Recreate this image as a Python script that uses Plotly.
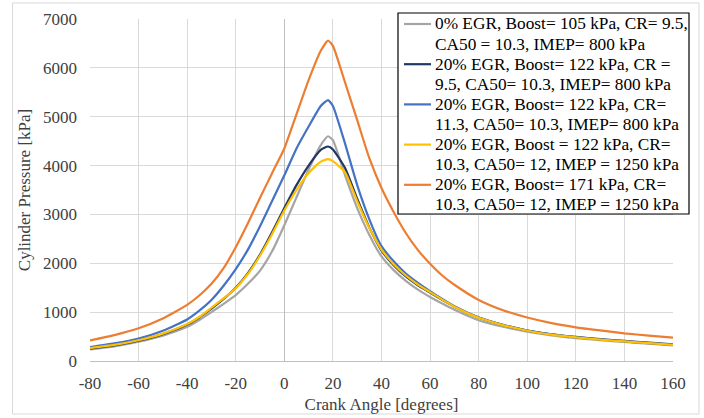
import plotly.graph_objects as go

# Crank angle samples [degrees]
crank_angle = [-80, -70, -60, -50, -40, -35, -30, -25, -20, -15, -10, -5, 0, 5, 10, 15, 18, 20, 25,
               30, 35, 40, 45, 50, 55, 60, 65, 70, 80, 90, 100, 110, 120, 130, 140, 150, 160]

# Cylinder pressure [kPa]
p_egr0_b105_cr95 = [235, 300, 395, 520, 700, 840, 1000, 1170, 1350, 1580, 1850, 2250, 2780, 3350, 3920, 4420, 4600, 4520, 3800,
                    3130, 2580, 2140, 1860, 1640, 1460, 1310, 1175, 1050, 835, 700, 600, 525, 470, 425, 390, 355, 320]
p_egr20_b122_cr95 = [255, 320, 415, 550, 745, 890, 1070, 1270, 1500, 1800, 2180, 2640, 3130, 3600, 4000, 4320, 4390, 4330, 3950,
                     3320, 2730, 2260, 1960, 1730, 1550, 1400, 1250, 1110, 890, 740, 625, 548, 492, 447, 412, 377, 342]
p_egr20_b122_cr113 = [285, 360, 460, 620, 850, 1030, 1250, 1540, 1880, 2280, 2760, 3280, 3800, 4350, 4800, 5220, 5340, 5220, 4450,
                      3600, 2900, 2350, 2040, 1790, 1600, 1430, 1270, 1120, 890, 738, 622, 545, 485, 440, 400, 365, 330]
p_egr20_b122_cr103 = [265, 330, 425, 560, 755, 900, 1090, 1280, 1490, 1780, 2160, 2600, 3080, 3500, 3850, 4080, 4130, 4090, 3860,
                      3270, 2720, 2280, 1980, 1750, 1565, 1410, 1255, 1110, 885, 735, 620, 540, 482, 437, 400, 364, 328]
p_egr20_b171_cr103 = [420, 530, 670, 870, 1150, 1340, 1580, 1900, 2330, 2820, 3340, 3850, 4350, 5050, 5750, 6350, 6560, 6450, 5700,
                      4930, 4150, 3540, 3050, 2620, 2270, 1990, 1750, 1560, 1250, 1040, 890, 775, 690, 625, 565, 520, 480]

series_names = [
    ["0% EGR, Boost= 105 kPa, CR= 9.5,", "CA50 = 10.3, IMEP= 800 kPa"],
    ["20% EGR, Boost= 122 kPa, CR =", "9.5, CA50= 10.3, IMEP= 800 kPa"],
    ["20% EGR, Boost= 122 kPa, CR=", "11.3, CA50= 10.3, IMEP= 800 kPa"],
    ["20% EGR, Boost = 122 kPa, CR=", "10.3, CA50= 12, IMEP = 1250 kPa"],
    ["20% EGR, Boost= 171 kPa, CR=", "10.3, CA50= 12, IMEP = 1250 kPa"],
]
series_values = [p_egr0_b105_cr95, p_egr20_b122_cr95, p_egr20_b122_cr113, p_egr20_b122_cr103, p_egr20_b171_cr103]
series_colors = ["#A5A5A5", "#203864", "#4472C4", "#FFC000", "#ED7D31"]

x_ticks = list(range(-80, 161, 20))
x_tick_labels = [str(v) for v in x_ticks]
y_ticks = list(range(0, 7001, 1000))

FONT = "Liberation Serif, Times New Roman, serif"
W, H = 704, 418
ML, MR, MT, MB = 90, 31, 19, 57
PW, PH = W - ML - MR, H - MT - MB


def px_x(px):
    return (px - ML) / PW


def px_y(py):
    return (H - MB - py) / PH


fig = go.Figure()
for names, vals, col in zip(series_names, series_values, series_colors):
    fig.add_trace(go.Scatter(x=crank_angle, y=vals, name=" ".join(names), mode="lines", showlegend=False,
                             line=dict(color=col, width=2.2, shape="spline", smoothing=0.5)))

# legend box (drawn as shapes + text)
shapes = [dict(type="rect", xref="paper", yref="paper",
               x0=-0.133, x1=1.0446, y0=-0.155, y1=1.0468,
               line=dict(color="#D9D9D9", width=1), layer="below"),
          dict(type="rect", xref="paper", yref="paper",
               x0=px_x(398), x1=px_x(689), y0=px_y(214), y1=px_y(13),
               line=dict(color="black", width=1.2), fillcolor="white", layer="above")]
annotations = []
line_h = 20.1
for i, (names, col) in enumerate(zip(series_names, series_colors)):
    y_first = 24 + 2 * line_h * i
    shapes.append(dict(type="line", xref="paper", yref="paper",
                       x0=px_x(404), x1=px_x(431), y0=px_y(y_first), y1=px_y(y_first),
                       line=dict(color=col, width=2.2), layer="above"))
    for k, txt in enumerate(names):
        annotations.append(dict(text=txt, xref="paper", yref="paper", x=px_x(433), y=px_y(y_first + k * line_h),
                                xanchor="left", yanchor="middle", showarrow=False,
                                font=dict(family=FONT, size=17.3, color="#000000")))

fig.update_layout(
    width=W, height=H,
    margin=dict(l=ML, r=MR, t=MT, b=MB, autoexpand=False),
    paper_bgcolor="white", plot_bgcolor="white",
    font=dict(family=FONT, size=17, color="#404040"),
    showlegend=False,
    shapes=shapes,
    annotations=annotations,
)
fig.update_xaxes(range=[-80, 160], tickvals=x_ticks, ticktext=x_tick_labels, automargin=False,
                 showgrid=True, gridcolor="#D9D9D9", gridwidth=1,
                 zeroline=True, zerolinecolor="#BFBFBF", zerolinewidth=1,
                 showline=True, linecolor="#BFBFBF", linewidth=1, ticks="", ticklabelstandoff=7,
                 title=dict(text="Crank Angle [degrees]", standoff=5, font=dict(family=FONT, size=17, color="#404040")),
                 tickfont=dict(family=FONT, size=17, color="#404040"))
fig.update_yaxes(range=[0, 7000], tickvals=y_ticks, automargin=False,
                 showgrid=True, gridcolor="#D9D9D9", gridwidth=1,
                 zeroline=False, showline=False, ticks="", ticklabelstandoff=12,
                 title=dict(text="Cylinder Pressure [kPa]", standoff=8, font=dict(family=FONT, size=17, color="#404040")),
                 tickfont=dict(family=FONT, size=17, color="#404040"))

fig.write_html("out.html")
